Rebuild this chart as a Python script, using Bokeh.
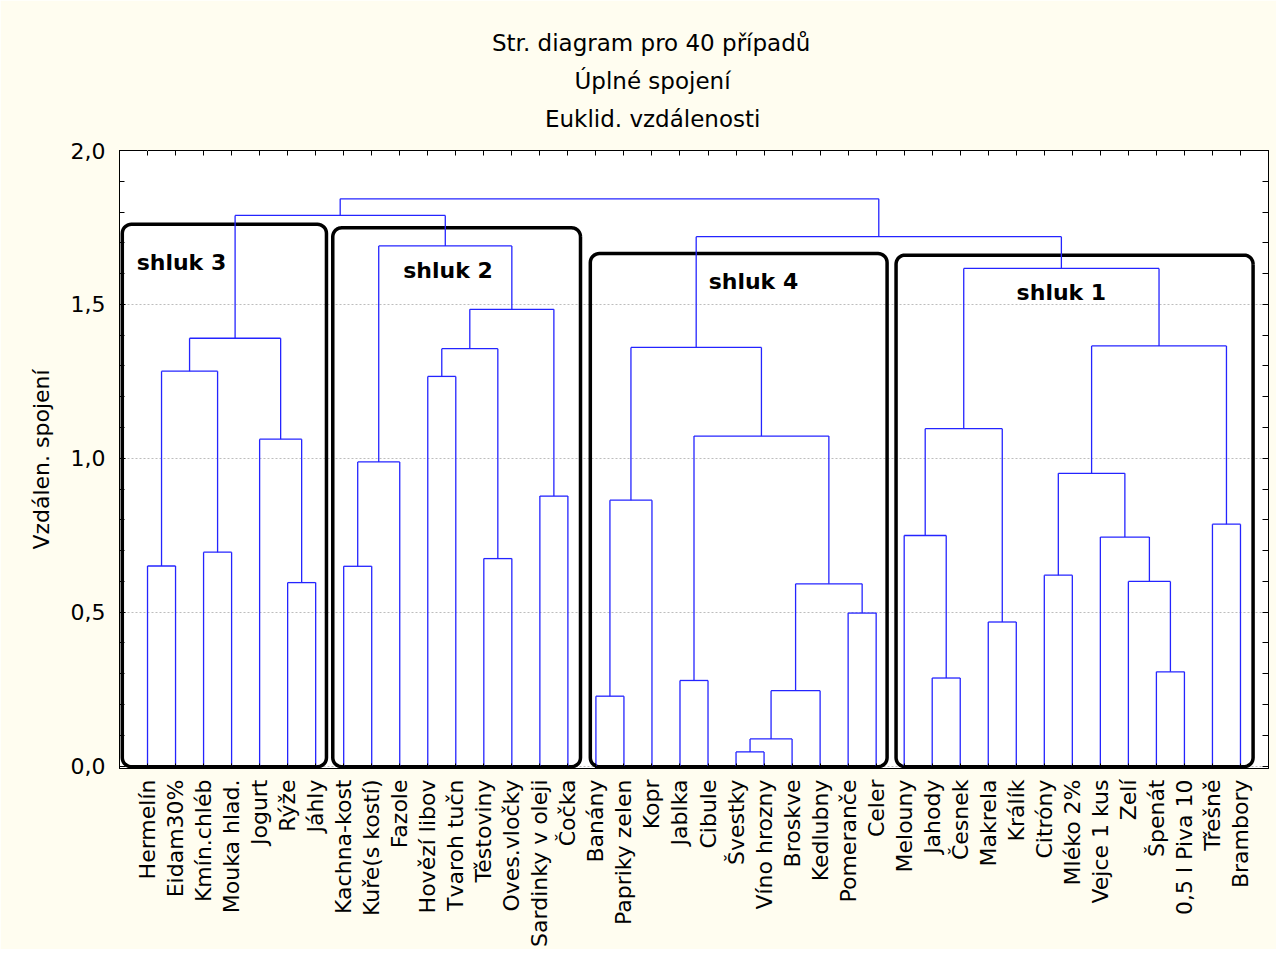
import numpy as np
from bokeh.plotting import figure
from bokeh.models import (LinearAxis, FixedTicker, Label, Range1d, CustomJSTickFormatter, Title)
from bokeh.embed import file_html
from bokeh.resources import INLINE

# ---------------- data ----------------
title_lines = ["Str. diagram pro 40 případů", "Úplné spojení", "Euklid. vzdálenosti"]
y_axis_title = "Vzdálen. spojení"

leaf_labels = [
    "Hermelín", "Eidam30%", "Kmín.chléb", "Mouka hlad.", "Jogurt", "Rýže", "Jáhly",
    "Kachna-kost", "Kuře(s kostí)", "Fazole", "Hovězí libov", "Tvaroh tučn", "Těstoviny",
    "Oves.vločky", "Sardinky v oleji", "Čočka",
    "Banány", "Papriky zelen", "Kopr", "Jablka", "Cibule", "Švestky", "Víno hrozny",
    "Broskve", "Kedlubny", "Pomeranče", "Celer",
    "Melouny", "Jahody", "Česnek", "Makrela", "Králík", "Citróny", "Mléko 2%",
    "Vejce 1 kus", "Zelí", "Špenát", "0,5 l Piva 10", "Třešně", "Brambory",
]

# linkage: node ids 0..39 are leaves, merge k creates node 40+k
merge_left = [0, 2, 5, 40, 4, 43,
              7, 46, 10, 12, 48, 14, 50, 47, 45,
              16, 55, 19, 21, 58, 59, 25, 60, 57, 56,
              28, 27, 30, 66, 32, 36, 35, 34, 69, 38, 73, 68,
              64, 54]
merge_right = [1, 3, 6, 41, 42, 44,
               8, 9, 11, 13, 49, 15, 51, 52, 53,
               17, 18, 20, 22, 23, 24, 26, 61, 62, 63,
               29, 65, 31, 67, 33, 37, 70, 71, 72, 39, 74, 75,
               76, 77]
merge_height = [0.650, 0.695, 0.596, 1.283, 1.062, 1.390,
                0.649, 0.988, 1.266, 0.674, 1.356, 0.877, 1.484, 1.690, 1.789,
                0.227, 0.864, 0.278, 0.046, 0.088, 0.245, 0.497, 0.592, 1.072, 1.360,
                0.286, 0.749, 0.468, 1.096, 0.620, 0.306, 0.600, 0.744, 0.951, 0.786, 1.365, 1.617,
                1.720, 1.843]

cluster_names = ["shluk 3", "shluk 2", "shluk 4", "shluk 1"]

# ---------------- layout (annotation placement) ----------------
box_x0 = [0.10, 7.61, 16.80, 27.71]
box_x1 = [7.385, 16.45, 27.39, 40.45]
box_top = [1.760, 1.749, 1.665, 1.660]
name_x = [2.21, 11.72, 22.62, 33.61]
name_y = [1.636, 1.610, 1.575, 1.539]

FONT = "DejaVu Sans"
BLUE = "#2424ff"
BG = "#fffdf0"

n = len(leaf_labels)
node_x = [float(i + 1) for i in range(n)]
node_h = [0.0] * n
sx0, sy0, sx1, sy1 = [], [], [], []
for a, b, h in zip(merge_left, merge_right, merge_height):
    xa, xb = node_x[a], node_x[b]
    sx0 += [xa, xb, xa]; sy0 += [node_h[a], node_h[b], h]
    sx1 += [xa, xb, xb]; sy1 += [h, h, h]
    node_x.append((xa + xb) / 2.0)
    node_h.append(h)

W, H = 1276, 949
BL, BR, BT, BB = 119, 8, 150, 181
p = figure(width=W, height=H, title=None,
           x_range=Range1d(0, n + 1), y_range=Range1d(-0.008, 2.0),
           output_backend="svg", toolbar_location=None,
           min_border_left=BL, min_border_right=BR, min_border_top=BT, min_border_bottom=BB,
           background_fill_color="white", border_fill_color=BG,
           outline_line_color="black", outline_line_width=1)

# grid
p.xgrid.visible = False
p.ygrid.grid_line_color = "#bdbdbd"
p.ygrid.grid_line_dash = "2 2"
p.ygrid.grid_line_width = 1

# pixel scale for rounded corners
frame_w = W - BL - BR
frame_h = H - BT - BB
px_x = frame_w / (n + 1)
px_y = frame_h / 2.008
r = 9.0
rx, ry = r / px_x, r / px_y

def rounded(x0, x1, y0, y1):
    xs, ys = [], []
    corners = [(x1 - rx, y1 - ry, 0, 90), (x0 + rx, y1 - ry, 90, 180),
               (x0 + rx, y0 + ry, 180, 270), (x1 - rx, y0 + ry, 270, 360)]
    for cx, cy, a0, a1 in corners:
        t = np.radians(np.linspace(a0, a1, 10))
        xs += list(cx + rx * np.cos(t)); ys += list(cy + ry * np.sin(t))
    xs.append(xs[0]); ys.append(ys[0])
    return xs, ys

bxs, bys = [], []
for x0, x1, top in zip(box_x0, box_x1, box_top):
    a, b = rounded(x0, x1, -0.002, top)
    bxs.append(a); bys.append(b)
p.multi_line(bxs, bys, line_color="black", line_width=3.5, line_join="round")

p.segment(sx0, sy0, sx1, sy1, line_color=BLUE, line_width=1.3)

for name, x, y in zip(cluster_names, name_x, name_y):
    p.add_layout(Label(x=x, y=y, text=name, text_font=FONT, text_font_size="22px",
                       text_font_style="bold", text_align="center", text_baseline="middle",
                       text_color="black"))

# x axis (bottom)
p.xaxis.ticker = FixedTicker(ticks=list(range(1, n + 1)))
p.xaxis.major_label_overrides = {i + 1: lab for i, lab in enumerate(leaf_labels)}
p.xaxis.major_label_orientation = np.pi / 2
p.xaxis.major_label_text_font = FONT
p.xaxis.major_label_text_font_size = "22px"
p.xaxis.major_label_text_color = "black"
p.xaxis.major_label_standoff = 11
p.xaxis.major_tick_in = 5
p.xaxis.major_tick_out = 0
p.xaxis.minor_tick_line_color = None
p.xaxis.axis_line_color = "black"

# top axis (ticks only)
top = LinearAxis(ticker=FixedTicker(ticks=list(range(1, n + 1))),
                 major_tick_in=5, major_tick_out=0, minor_tick_line_color=None,
                 major_label_text_font_size="1px", major_label_text_color=None,
                 major_label_standoff=0, axis_line_color="black")
p.add_layout(top, "above")

# spacer between the frame and the title lines (its one outward tick is drawn in the border colour)
spacer = LinearAxis(ticker=FixedTicker(ticks=[1]), major_tick_in=0, major_tick_out=14,
                    major_tick_line_color=BG, minor_tick_line_color=None,
                    major_label_text_font_size="1px", major_label_text_color=None,
                    major_label_standoff=0, axis_line_color=None)
p.add_layout(spacer, "above")

# titles (stacked above the frame, centred at x≈652 on the page)
est_w = [321, 156, 215]
for t, w in reversed(list(zip(title_lines, est_w))):
    p.add_layout(Title(text=t, align="left", offset=652 - w / 2 - BL,
                       text_font=FONT, text_font_size="23px", text_font_style="normal",
                       text_color="black", standoff=10), "above")

# y axis (left)
p.yaxis.ticker = FixedTicker(ticks=[0, 0.5, 1.0, 1.5, 2.0],
                             minor_ticks=[round(0.1 * i, 1) for i in range(21)])
p.yaxis.formatter = CustomJSTickFormatter(code="return tick.toFixed(1).replace('.', ',');")
p.yaxis.major_label_text_font = FONT
p.yaxis.major_label_text_font_size = "22px"
p.yaxis.major_label_text_color = "black"
p.yaxis.major_label_standoff = 14
p.yaxis.major_tick_in = 6
p.yaxis.major_tick_out = 0
p.yaxis.minor_tick_in = 5
p.yaxis.minor_tick_out = 0
p.yaxis.axis_label = y_axis_title
p.yaxis.axis_label_text_font = FONT
p.yaxis.axis_label_text_font_size = "22px"
p.yaxis.axis_label_text_font_style = "normal"
p.yaxis.axis_label_text_color = "black"
p.yaxis.axis_label_standoff = 14
p.yaxis.axis_line_color = "black"

right = LinearAxis(ticker=FixedTicker(ticks=[round(0.1 * i, 1) for i in range(21)]),
                   major_tick_in=6, major_tick_out=0, minor_tick_line_color=None,
                   major_label_text_font_size="1px", major_label_text_color=None,
                   major_label_standoff=0, axis_line_color="black")
p.add_layout(right, "right")

open("out.html", "w").write(file_html(p, INLINE))
